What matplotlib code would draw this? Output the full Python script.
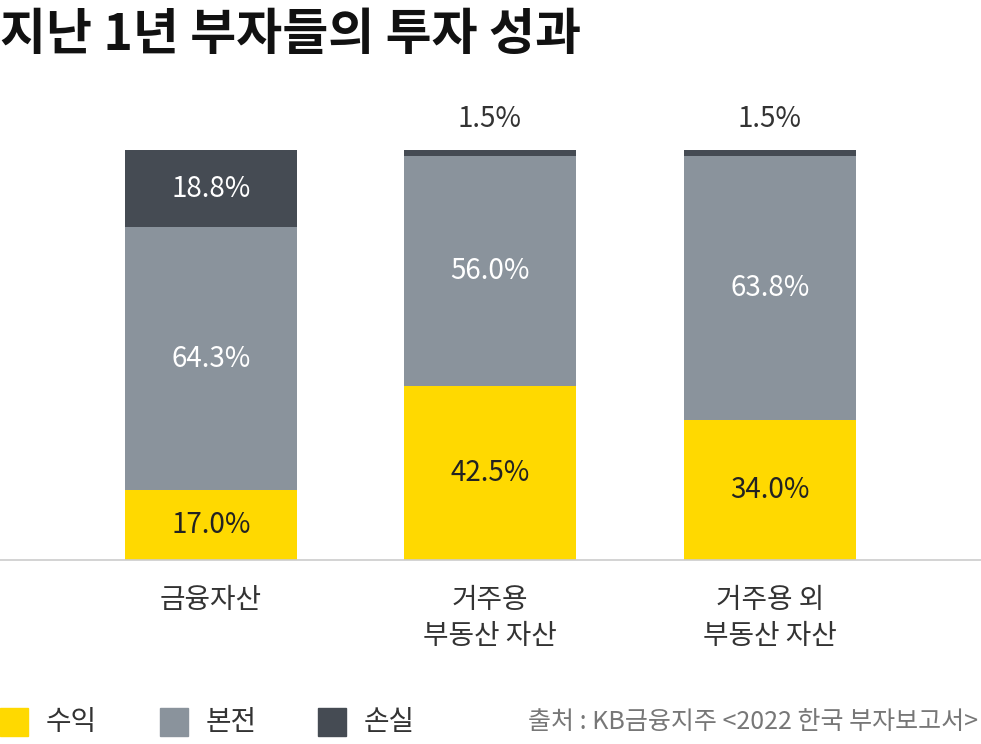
import matplotlib.pyplot as plt

plt.rcParams['font.family'] = ['Noto Sans CJK KR', 'DejaVu Sans']

categories = ['금융자산', '거주용\n부동산 자산', '거주용 외\n부동산 자산']
profit = [17.0, 42.5, 34.0]
principal = [64.3, 56.0, 63.8]
loss = [18.8, 1.5, 1.5]
series_names = ['수익', '본전', '손실']
colors = ['#FFD900', '#8A939C', '#454B53']

W, H = 981, 744
fig = plt.figure(figsize=(W / 100, H / 100), dpi=100)
# axes: baseline at y=560 px, 100% at y=150 px
ax = fig.add_axes([0, (H - 560) / H, 1, 410 / H])
ax.set_xlim(0, W)
ax.set_ylim(0, 100)
ax.axis('off')

xs = [211, 490, 770]
width = 172
totals = [p + q + r for p, q, r in zip(profit, principal, loss)]
bottoms = [0, 0, 0]
for vals, col in zip([profit, principal, loss], colors):
    scaled = [v * 100 / t for v, t in zip(vals, totals)]
    ax.bar(xs, scaled, width=width, bottom=bottoms, color=col, linewidth=0)
    bottoms = [b + v for b, v in zip(bottoms, scaled)]

fs = 20
for i, x in enumerate(xs):
    k = 100 / totals[i]
    p, q, r = profit[i] * k, principal[i] * k, loss[i] * k
    ax.text(x, p / 2, f'{profit[i]:.1f}%', ha='center', va='center',
            fontsize=fs, color='#222222')
    ax.text(x, p + q / 2, f'{principal[i]:.1f}%', ha='center',
            va='center', fontsize=fs, color='white')
    if loss[i] > 5:
        ax.text(x, p + q + r / 2, f'{loss[i]:.1f}%',
                ha='center', va='center', fontsize=fs, color='white')
    else:
        ax.text(x, 104, f'{loss[i]:.1f}%', ha='center', va='bottom',
                fontsize=fs, color='#333333')
    ax.text(x, -6, categories[i], ha='center', va='top', fontsize=fs,
            color='#333333', linespacing=1.3)

ax.axhline(0, color='#CCCCCC', linewidth=1.2, clip_on=False)

fig.text(0, 1 - 35 / H, '지난 1년 부자들의 투자 성과', fontsize=36,
         fontweight='bold', va='center', ha='left', color='#111111')

lx = [0, 160, 318]
for x0, name, col in zip(lx, series_names, colors):
    fig.patches.append(plt.Rectangle((x0 / W, 1 - 736 / H), 28 / W, 28 / H,
                                     transform=fig.transFigure, color=col))
    fig.text((x0 + 46) / W, 1 - 722 / H, name, fontsize=fs, va='center',
             color='#333333')

fig.text(978 / W, 1 - 722 / H, '출처 : KB금융지주 <2022 한국 부자보고서>',
         fontsize=18, ha='right', va='center', color='#777777')

fig.savefig('out.png', dpi=100)
